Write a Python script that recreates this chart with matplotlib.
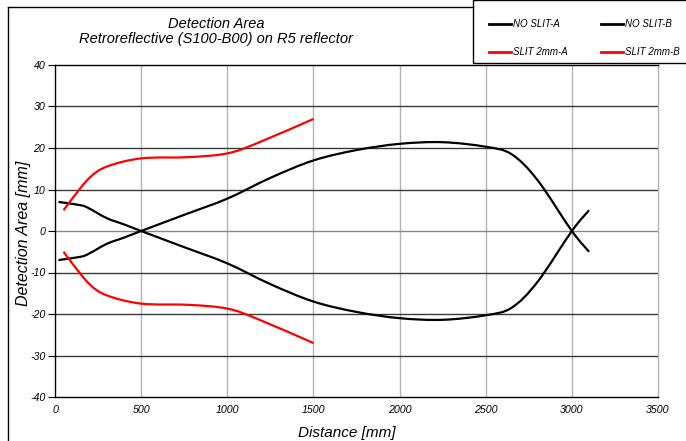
import numpy as np
import matplotlib
matplotlib.use("Agg")
import matplotlib.pyplot as plt
from matplotlib.path import Path
from matplotlib.patches import PathPatch, Rectangle
from matplotlib.lines import Line2D

# Data (distance in mm, detection area in mm)
noslit_dist = [20, 150, 200, 300, 400, 500, 750, 1000, 1250, 1500, 1750,
               2000, 2250, 2500, 2650, 2800, 3000, 3100]
noslit_a = [7, 6.2, 5.4, 3.1, 1.6, 0, -3.9, -7.8, -12.8, -17, -19.5,
            -21, -21.4, -20.3, -18.5, -12.3, 0, 5]
noslit_b = [-7, -6.2, -5.4, -3.1, -1.6, 0, 3.9, 7.8, 12.8, 17, 19.5,
            21, 21.4, 20.3, 18.5, 12.3, 0, -5]

slit_dist = [50, 100, 200, 300, 500, 780, 1000, 1170, 1500]
slit_a = [5, 7.8, 12.8, 15.5, 17.5, 17.8, 18.7, 21.1, 27]
slit_b = [-5, -7.8, -12.8, -15.5, -17.5, -17.8, -18.7, -21.1, -27]

x_ticks = [0, 500, 1000, 1500, 2000, 2500, 3000, 3500]
y_ticks = [-40, -30, -20, -10, 0, 10, 20, 30, 40]

FONT = ["Liberation Sans", "DejaVu Sans"]
W, H = 686, 441


def smooth_path(xs, ys):
    # Bezier path through the points, like a spreadsheet "smoothed line"
    pts = np.column_stack([xs, ys]).astype(float)
    n = len(pts)
    verts = [pts[0]]
    codes = [Path.MOVETO]
    for i in range(n - 1):
        p0 = pts[i - 1] if i > 0 else pts[i]
        p1 = pts[i]
        p2 = pts[i + 1]
        p3 = pts[i + 2] if i + 2 < n else pts[i + 1]
        verts += [p1 + (p2 - p0) / 6, p2 - (p3 - p1) / 6, p2]
        codes += [Path.CURVE4] * 3
    return Path(verts, codes)


fig = plt.figure(figsize=(6.86, 4.41), dpi=100)
ax = fig.add_axes([55 / W, 44 / H, 603 / W, 332 / H])

for xs, ys, col in [(noslit_dist, noslit_a, "black"), (noslit_dist, noslit_b, "black"),
                    (slit_dist, slit_a, "#ff0000"), (slit_dist, slit_b, "#ff0000")]:
    ax.add_patch(PathPatch(smooth_path(xs, ys), fill=False, edgecolor=col,
                           lw=1.6, zorder=3, capstyle="butt"))

ax.set_xlim(0, 3500)
ax.set_ylim(-40, 40)
ax.set_xticks(x_ticks)
ax.set_yticks(y_ticks)
ax.set_xticklabels([str(v) for v in x_ticks], fontstyle="italic", fontsize=7.7, family=FONT)
ax.set_yticklabels([str(v) for v in y_ticks], fontstyle="italic", fontsize=7.7, family=FONT)
ax.tick_params(axis="x", length=0, pad=6)
ax.tick_params(axis="y", length=5, width=0.8, pad=2, direction="out")

# grid: vertical light gray, horizontal dark
for v in x_ticks[1:-1]:
    ax.axvline(v, color="#b4b4b4", lw=1, zorder=1)
for v in y_ticks[1:-1]:
    ax.axhline(v, color="#888888" if v == 0 else "#3a3a3a", lw=1, zorder=1)

for side in ["left", "bottom", "top"]:
    ax.spines[side].set_color("black")
    ax.spines[side].set_linewidth(1)
ax.spines["right"].set_color("#b4b4b4")
ax.spines["right"].set_linewidth(1)

ax.set_xlabel("Distance [mm]", fontstyle="italic", fontsize=11, family=FONT, va="center")
ax.xaxis.set_label_coords(0.484, -0.108)
ax.set_ylabel("Detection Area [mm]", fontstyle="italic", fontsize=11.5, family=FONT, va="center")
ax.yaxis.set_label_coords(-0.053, 0.493)

fig.text(216 / W, 1 - 31.5 / H, "Detection Area\nRetroreflective (S100-B00) on R5 reflector",
         ha="center", va="center", fontstyle="italic", fontsize=10.5, family=FONT,
         linespacing=1.05)

# outer frame (left and top edges)
fig.add_artist(Line2D([8 / W, 8 / W], [0, 1 - 7 / H], color="black", lw=1))
fig.add_artist(Line2D([8 / W, 473 / W], [1 - 7 / H, 1 - 7 / H], color="black", lw=1))

# legend box
fig.add_artist(Rectangle((473 / W, 1 - 63 / H), 230 / W, 63 / H, transform=fig.transFigure,
                         facecolor="white", edgecolor="black", lw=1))

handles = [Line2D([], [], color="black", lw=2), Line2D([], [], color="#ff0000", lw=2),
           Line2D([], [], color="black", lw=2), Line2D([], [], color="#ff0000", lw=2)]
labels = ["NO SLIT-A", "SLIT 2mm-A", "NO SLIT-B", "SLIT 2mm-B"]
leg = fig.legend(handles, labels, ncol=2, loc="upper left",
                 bbox_to_anchor=(489 / W, 1 - 19 / H), frameon=False,
                 prop={"style": "italic", "size": 7, "family": FONT},
                 handlelength=2.3, handletextpad=0.2, columnspacing=3.4,
                 labelspacing=1.9, borderpad=0, borderaxespad=0)

fig.savefig("out.png", dpi=100)
